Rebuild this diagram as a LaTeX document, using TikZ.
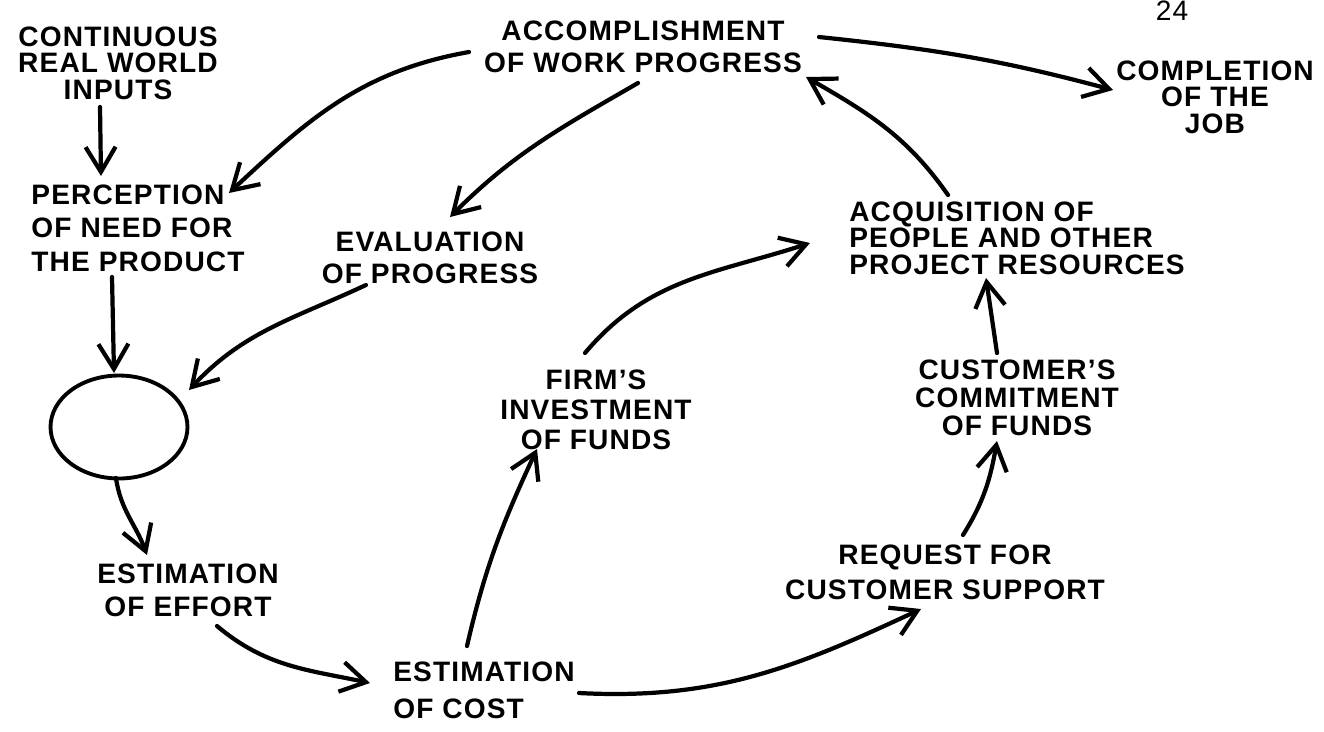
\documentclass[tikz,border=0pt]{standalone}
\usepackage{fontspec}
\setmainfont{Liberation Sans}[LetterSpace=4]
\usetikzlibrary{arrows.meta,shapes.geometric}

\tikzset{
  lbl/.style={font=\fontsize{16}{#1}\selectfont\bfseries,inner sep=2pt},
  lbl/.default=17,
  flow/.style={line width=2.4pt,line cap=round,line join=round,-{Straight Barb[length=5mm,width=6mm]}},
}

\begin{document}
\begin{tikzpicture}[x=0.02cm,y=0.02cm]
        \useasboundingbox (0,0) rectangle (1324,-731);
        \node [font=\fontsize{16}{17}\selectfont,anchor=north,inner sep=0pt] (pg) at (1172,-1) {24};
        \node [lbl=15,align=center] (inputs) at (118,-63) {CONTINUOUS\\REAL WORLD\\INPUTS};
        \node [lbl=19,align=left] (perc) at (138,-228) {PERCEPTION\\OF NEED FOR\\THE PRODUCT};
        \node [lbl=18,align=center] (acc) at (643,-47) {ACCOMPLISHMENT\\OF WORK PROGRESS};
        \node [lbl=15,align=center] (compl) at (1215,-97) {COMPLETION\\OF THE\\JOB};
        \node [lbl=18,align=center] (evalp) at (430,-258) {EVALUATION\\OF PROGRESS};
        \node [lbl=15,align=left] (acq) at (1017,-238) {ACQUISITION OF\\PEOPLE AND OTHER\\PROJECT RESOURCES};
        \node [draw,ellipse,line width=2.2pt,minimum width=2.74cm,minimum height=2.06cm] (blob) at (119,-427) {};
        \node [lbl=19,align=center] (effort) at (188,-590) {ESTIMATION\\OF EFFORT};
        \node [lbl=21,align=left] (cost) at (484,-690) {ESTIMATION\\OF COST};
        \node [lbl=17,align=center] (firm) at (596,-410) {FIRM'S\\INVESTMENT\\OF FUNDS};
        \node [lbl=16,align=center] (cust) at (1017,-398) {CUSTOMER'S\\COMMITMENT\\OF FUNDS};
        \node [lbl=20,align=center] (req) at (945,-572) {REQUEST FOR\\CUSTOMER SUPPORT};
        \draw [flow] ([shift={(-18,-44)}]inputs.center) -- ([shift={(-37,52)}]perc.center);
        \draw [flow] ([shift={(-174,-5)}]acc.center) to[out=190,in=43] ([shift={(91,35)}]perc.center);
        \draw [flow] ([shift={(-5,-36)}]acc.center) to[out=210,in=45] ([shift={(20,41)}]evalp.center);
        \draw [flow] ([shift={(-64,-27)}]evalp.center) to[out=205,in=47] ([shift={(70,37)}]blob.center);
        \draw [flow] ([shift={(-26,-49)}]perc.center) -- ([shift={(-5,54)}]blob.center);
        \draw [flow] ([shift={(-3,-51)}]blob.center) to[out=-82,in=110] ([shift={(-41,35)}]effort.center);
        \draw [flow] ([shift={(29,-36)}]effort.center) to[out=-40,in=168] ([shift={(-114,7)}]cost.center);
        \draw [flow] ([shift={(-17,44)}]cost.center) to[out=77,in=-115] ([shift={(-59,-39)}]firm.center);
        \draw [flow] ([shift={(95,-3)}]cost.center) to[out=-3,in=205] ([shift={(-24,-37)}]req.center);
        \draw [flow] ([shift={(-11,57)}]firm.center) to[out=50,in=198] ([shift={(-207,-5)}]acq.center);
        \draw [flow] ([shift={(18,37)}]req.center) to[out=58,in=-100] ([shift={(-20,-43)}]cust.center);
        \draw [flow] ([shift={(-20,45)}]cust.center) -- ([shift={(-31,-40)}]acq.center);
        \draw [flow] ([shift={(-69,43)}]acq.center) to[out=125,in=-30] ([shift={(163,-30)}]acc.center);
        \draw [flow] ([shift={(176,10)}]acc.center) to[out=-6,in=165] ([shift={(-102,7)}]compl.center);
      \end{tikzpicture}
\end{document}
